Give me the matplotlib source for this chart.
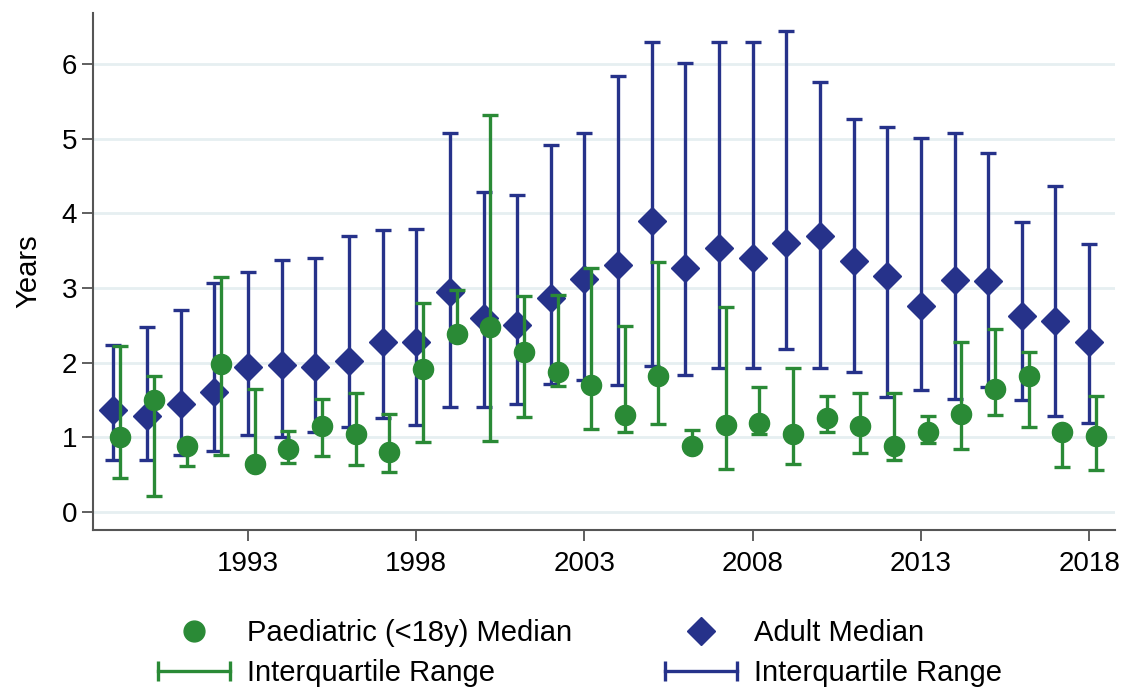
import matplotlib
matplotlib.use('Agg')
import matplotlib.pyplot as plt
from matplotlib.lines import Line2D
from matplotlib.legend_handler import HandlerLine2D
import numpy as np

plt.rcParams['font.family'] = ['Liberation Sans', 'DejaVu Sans']

years = np.arange(1989, 2019)

# adult median and interquartile range
adult_med = [1.37, 1.28, 1.44, 1.61, 1.94, 1.97, 1.94, 2.02, 2.27, 2.28,
             2.95, 2.60, 2.50, 2.86, 3.12, 3.31, 3.89, 3.27, 3.53, 3.40,
             3.60, 3.69, 3.36, 3.16, 2.76, 3.10, 3.09, 2.63, 2.56, 2.27]
adult_q1 = [0.70, 0.70, 0.76, 0.82, 1.03, 1.00, 1.07, 1.14, 1.26, 1.17,
            1.40, 1.40, 1.45, 1.71, 1.77, 1.70, 1.96, 1.83, 1.93, 1.93,
            2.18, 1.93, 1.88, 1.54, 1.63, 1.51, 1.67, 1.50, 1.29, 1.19]
adult_q3 = [2.24, 2.48, 2.71, 3.06, 3.22, 3.38, 3.40, 3.69, 3.77, 3.79,
            5.08, 4.29, 4.25, 4.91, 5.08, 5.84, 6.29, 6.01, 6.29, 6.29,
            6.44, 5.76, 5.26, 5.15, 5.01, 5.07, 4.81, 3.88, 4.37, 3.59]

# paediatric median and interquartile range
paed_med = [1.01, 1.50, 0.88, 1.98, 0.65, 0.85, 1.15, 1.05, 0.81, 1.91,
            2.39, 2.48, 2.14, 1.88, 1.70, 1.30, 1.82, 0.88, 1.16, 1.19,
            1.05, 1.26, 1.15, 0.89, 1.07, 1.31, 1.65, 1.82, 1.07, 1.02]
paed_q1 = [0.46, 0.21, 0.62, 0.76, 0.60, 0.66, 0.75, 0.63, 0.53, 0.94,
           2.30, 0.95, 1.27, 1.69, 1.11, 1.07, 1.18, 0.82, 0.57, 1.05,
           0.64, 1.07, 0.79, 0.70, 0.93, 0.85, 1.30, 1.14, 0.60, 0.56]
paed_q3 = [2.22, 1.82, 0.93, 3.15, 1.65, 1.08, 1.52, 1.59, 1.31, 2.80,
           2.97, 5.31, 2.89, 2.91, 3.27, 2.49, 3.35, 1.10, 2.75, 1.67,
           1.93, 1.55, 1.60, 1.60, 1.28, 2.27, 2.45, 2.14, 1.10, 1.55]

navy = '#26328a'
green = '#2a8a36'

fig = plt.figure(figsize=(11.28, 6.93), dpi=100)
ax = fig.add_axes([0.0824, 0.2352, 0.9061, 0.746])

adult_med = np.array(adult_med)
paed_med = np.array(paed_med)
a_err = [adult_med - np.array(adult_q1), np.array(adult_q3) - adult_med]
p_err = [paed_med - np.array(paed_q1), np.array(paed_q3) - paed_med]

# adult first so the paediatric series sits on top
ax.errorbar(years, adult_med, yerr=a_err, fmt='D', color=navy, ms=14,
            elinewidth=2.4, capsize=6, capthick=2.4, zorder=3)
ax.errorbar(years + 0.2, paed_med, yerr=p_err, fmt='o', color=green, ms=14.5,
            elinewidth=2.4, capsize=6, capthick=2.4, zorder=4)

ax.set_xlim(1988.39, 2018.77)
ax.set_ylim(-0.24, 6.68)
ax.set_xticks([1993, 1998, 2003, 2008, 2013, 2018])
ax.set_yticks(range(0, 7))
ax.tick_params(labelsize=20, length=8, width=1.2, color='#444444')
ax.tick_params(axis='x', pad=7)
ax.set_ylabel('Years', fontsize=21, labelpad=14)

ax.grid(axis='y', color='#e6eff1', linewidth=2, zorder=0)
ax.set_axisbelow(True)
for s in ['top', 'right']:
    ax.spines[s].set_visible(False)
for s in ['left', 'bottom']:
    ax.spines[s].set_color('#555555')
    ax.spines[s].set_linewidth(1.5)

h1 = Line2D([], [], ls='none', marker='o', color=green, ms=15)
h2 = Line2D([], [], color=green, lw=2.4, marker='|', ms=14, mew=2.4)
h3 = Line2D([], [], ls='none', marker='D', color=navy, ms=14)
h4 = Line2D([], [], color=navy, lw=2.4, marker='|', ms=14, mew=2.4)

fig.legend([h1, h2, h3, h4],
           ['Paediatric (<18y) Median', 'Interquartile Range',
            'Adult Median', 'Interquartile Range'],
           ncol=2, loc='center', bbox_to_anchor=(580 / 1128, 1 - 653 / 693),
           frameon=False, fontsize=21, handlelength=2.45, handletextpad=0.58,
           columnspacing=3.2, labelspacing=0.42, numpoints=1,
           handler_map={h2: HandlerLine2D(numpoints=2, marker_pad=0),
                        h4: HandlerLine2D(numpoints=2, marker_pad=0)})

fig.savefig('out.png', dpi=100)
